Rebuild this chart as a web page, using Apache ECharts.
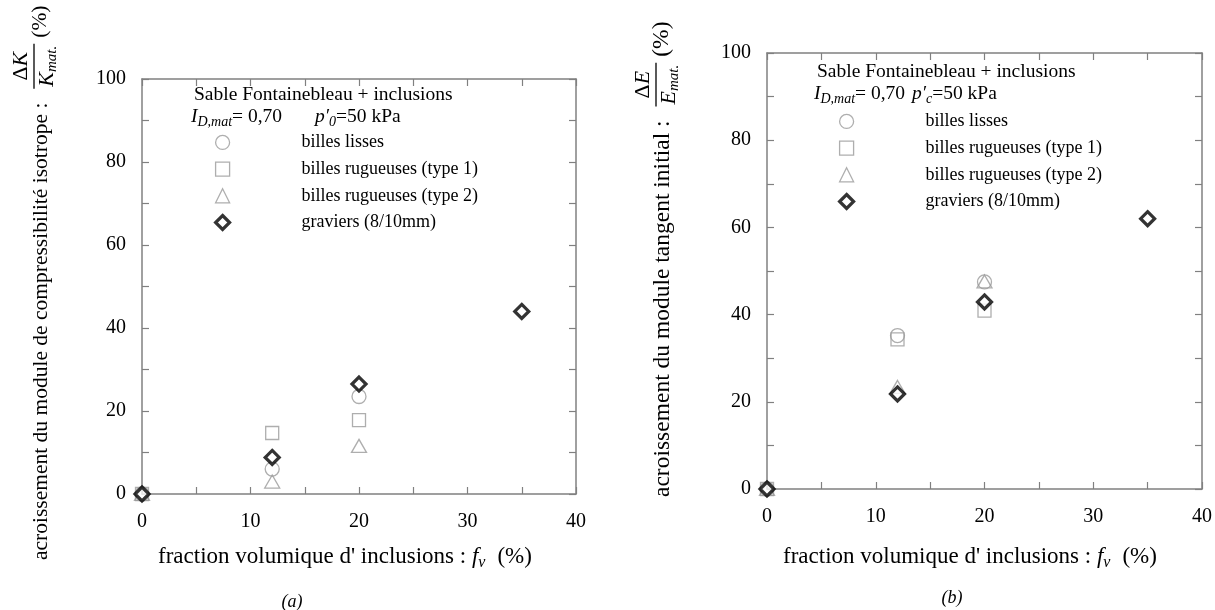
<!DOCTYPE html>
<html><head><meta charset="utf-8">
<script src="https://cdn.jsdelivr.net/npm/echarts@6/dist/echarts.min.js"></script>
<style>html,body{margin:0;padding:0;background:#fff}#c{width:1215px;height:610px}</style>
</head><body><div id="c"></div>
<script>
// ---------- data ----------
const seriesNames = ['billes lisses', 'billes rugueuses (type 1)', 'billes rugueuses (type 2)', 'graviers (8/10mm)'];
// (a) compressibility modulus increase (%) vs f_v (%)
const a_lisses = [[0, 0], [12, 6], [20, 23.5]];
const a_rug1   = [[0, 0], [12, 14.7], [20, 17.8]];
const a_rug2   = [[0, 0], [12, 3], [20, 11.6]];
const a_grav   = [[0, 0], [12, 8.8], [20, 26.5], [35, 44]];
// (b) initial tangent modulus increase (%) vs f_v (%)
const b_lisses = [[0, 0], [12, 35.2], [20, 47.5]];
const b_rug1   = [[0, 0], [12, 34.3], [20, 40.9]];
const b_rug2   = [[0, 0], [12, 23.4], [20, 47.6]];
const b_grav   = [[0, 0], [12, 21.8], [20, 42.9], [35, 62]];
const xTicks = [0, 10, 20, 30, 40];
const yTicks = [0, 20, 40, 60, 80, 100];

// ---------- helpers ----------
const FF = '"Liberation Serif", "DejaVu Serif", serif';
const cv = document.createElement('canvas').getContext('2d');
function fnt(size, it) { return (it ? 'italic ' : '') + size + 'px ' + FF; }
function tw(t, size, it) { cv.font = fnt(size, it); return cv.measureText(t).width; }
// build a horizontal run of text pieces starting at (x,y) (vertical middle)
function run(pieces, x, y, base) {
  const els = [];
  let cx = x;
  pieces.forEach(p => {
    if (p.gap) { cx += p.gap; return; }
    const fs = p.fs || base || 18;
    els.push({ type: 'text', x: cx, y: y + (p.dy || 0), silent: true,
      style: { text: p.t, font: fnt(fs, p.it), fill: '#000', align: 'left', verticalAlign: 'middle' } });
    cx += tw(p.t, fs, p.it);
  });
  return { els, end: cx };
}
function yTitle(px, py, mainText, letter, fsMain) {
  const els = [];
  const main = run([{ t: mainText }], 0, 0, fsMain);
  els.push(...main.els);
  const u0 = main.end + 14;
  const F = 22, S = 15;
  const numW = tw('\u0394', F) + tw(letter, F, true);
  const denW = tw(letter, F, true) + tw('mat.', S, true);
  const fw = Math.max(numW, denW) + 4;
  const num = run([{ t: '\u0394', fs: F }, { t: letter, fs: F, it: true }], u0 + (fw - numW) / 2, -20);
  const den = run([{ t: letter, fs: F, it: true }, { t: 'mat.', fs: S, it: true, dy: 5 }], u0 + (fw - denW) / 2, 6);
  els.push(...num.els, ...den.els);
  els.push({ type: 'line', silent: true, shape: { x1: u0, y1: -7, x2: u0 + fw, y2: -7 }, style: { stroke: '#000', lineWidth: 1.3 } });
  els.push(...run([{ t: '(%)' }], u0 + fw + 6, -1, fsMain).els);
  return { type: 'group', x: px, y: py, rotation: Math.PI / 2, children: els };
}
function xTitle(x, y) {
  return { type: 'group', children: run([
    { t: "fraction volumique d' inclusions : " }, { t: 'f', it: true }, { t: 'v', it: true, fs: 16, dy: 6 }, { gap: 12 }, { t: '(%)' }
  ], x, y, 23).els };
}
function header(x, y, px, sub) {
  const l1 = run([{ t: 'Sable Fontainebleau + inclusions' }], x, y, 19.5).els;
  const l2 = run([{ t: 'I', it: true }, { t: 'D,mat', it: true, fs: 14, dy: 5 }, { t: '= 0,70' }], x - 3, y + 22, 19.5).els;
  const l3 = run([{ t: 'p', it: true }, { t: '\u2032', it: true }, { t: sub, it: true, fs: 14, dy: 5 }, { t: '=50 kPa' }], px, y + 22, 19.5).els;
  return { type: 'group', children: [...l1, ...l2, ...l3] };
}

// ---------- axes ----------
const AX = '#808080';
function baseAxis(extra) {
  return Object.assign({
    type: 'value', splitLine: { show: false },
    axisLine: { show: true, onZero: false, lineStyle: { color: AX, width: 1.5 } },
    axisTick: { show: true, inside: true, length: 7, lineStyle: { color: AX, width: 1.2 } },
  }, extra);
}
function xAx(grid, pos) {
  return baseAxis({ gridIndex: grid, position: pos, min: 0, max: 40, interval: 5,
    axisLabel: { show: pos === 'bottom', margin: 18, color: '#000', fontFamily: FF, fontSize: 20,
      formatter: v => xTicks.includes(v) ? String(v) : '' } });
}
function yAx(grid, pos) {
  return baseAxis({ gridIndex: grid, position: pos, min: 0, max: 100, interval: 10,
    axisLabel: { show: pos === 'left', margin: 16, color: '#000', fontFamily: FF, fontSize: 20,
      formatter: v => yTicks.includes(v) ? String(v) : '' } });
}

// ---------- series ----------
const GR = '#9a9a9a';
const styles = [
  { symbol: 'circle', symbolSize: 14, itemStyle: { color: 'rgba(0,0,0,0)', borderColor: GR, borderWidth: 1.3 } },
  { symbol: 'rect', symbolSize: 13, itemStyle: { color: 'rgba(0,0,0,0)', borderColor: GR, borderWidth: 1.3 } },
  { symbol: 'triangle', symbolSize: [15, 13], itemStyle: { color: 'rgba(0,0,0,0)', borderColor: GR, borderWidth: 1.3 } },
  { symbol: 'diamond', symbolSize: 14, itemStyle: { color: '#fff', borderColor: '#000', borderWidth: 3.2 } },
];
function mk(i, data, xi, yi) {
  return Object.assign({ type: 'scatter', name: seriesNames[i], data, xAxisIndex: xi, yAxisIndex: yi, clip: false, z: 2 + i }, styles[i]);
}
const series = [
  mk(0, a_lisses, 0, 0), mk(1, a_rug1, 0, 0), mk(2, a_rug2, 0, 0), mk(3, a_grav, 0, 0),
  mk(0, b_lisses, 2, 2), mk(1, b_rug1, 2, 2), mk(2, b_rug2, 2, 2), mk(3, b_grav, 2, 2),
];
function legend(left, top) {
  return {
    orient: 'vertical', left, top, padding: 0, itemWidth: 14, itemHeight: 14, itemGap: 8.7,
    selectedMode: false,
    data: seriesNames.map((n, i) => ({ name: n, itemStyle: { borderWidth: styles[i].itemStyle.borderWidth } })),
    formatter: n => '{p|' + n + '}',
    textStyle: { rich: { p: { padding: [0, 0, 0, 67], fontFamily: FF, fontSize: 18, color: '#000', lineHeight: 14 } } }
  };
}

const chart = echarts.init(document.getElementById('c'), null, { renderer: 'canvas' });
chart.setOption({
  animation: false,
  backgroundColor: '#fff',
  grid: [
    { left: 142, top: 79, width: 434, height: 415 },
    { left: 767, top: 53, width: 435, height: 436 }
  ],
  xAxis: [xAx(0, 'bottom'), xAx(0, 'top'), xAx(1, 'bottom'), xAx(1, 'top')],
  yAxis: [yAx(0, 'left'), yAx(0, 'right'), yAx(1, 'left'), yAx(1, 'right')],
  legend: [legend(214, 133.4), legend(838, 112.4)],
  series,
  graphic: [
    yTitle(41, 560, 'acroissement du module de compressibilit\u00e9 isotrope :', 'K', 21.5),
    yTitle(663, 497, 'acroissement du module tangent initial :', 'E', 23.5),
    xTitle(158, 557),
    xTitle(783, 557),
    header(194, 95, 315, '0'),
    header(817, 72, 912, 'c'),
    { type: 'text', x: 292, y: 602, style: { text: '(a)', font: fnt(18, true), fill: '#000', align: 'center', verticalAlign: 'middle' } },
    { type: 'text', x: 952, y: 598, style: { text: '(b)', font: fnt(18, true), fill: '#000', align: 'center', verticalAlign: 'middle' } }
  ]
});
</script>
</body></html>
